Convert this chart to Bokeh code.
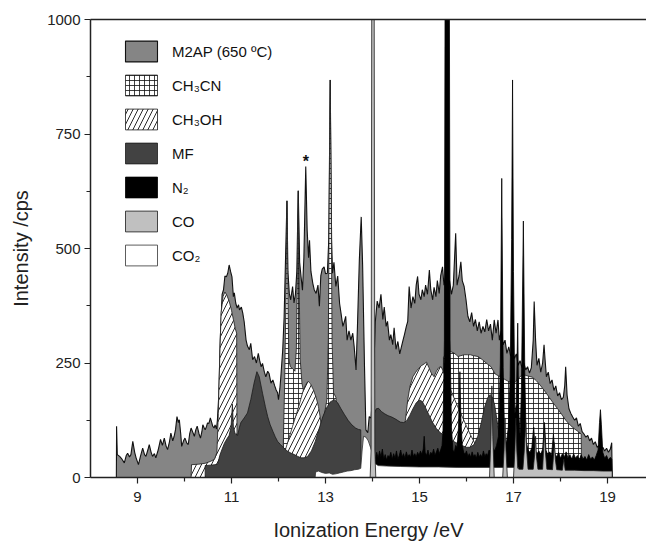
from bokeh.plotting import figure
from bokeh.models import Range1d, FixedTicker, Legend, LegendItem, LinearAxis
from bokeh.core.properties import value
from bokeh.embed import file_html
from bokeh.resources import INLINE

# ---------------- data (ionization energy /eV, intensity /cps) ----------------
m2ap = [(8.55, 0), (8.555, 112), (8.57, 50), (8.62, 46), (8.67, 40), (8.72, 32), (8.76, 48), (8.79, 53),
        (8.83, 45), (8.86, 50), (8.90, 79), (8.94, 55), (8.97, 43), (9.02, 28), (9.06, 45), (9.11, 64),
        (9.15, 50), (9.18, 46), (9.22, 60), (9.25, 72), (9.29, 55), (9.32, 46), (9.36, 52), (9.39, 43),
        (9.44, 60), (9.49, 83), (9.53, 70), (9.57, 86), (9.61, 68), (9.64, 61), (9.68, 78), (9.71, 97),
        (9.75, 80), (9.78, 90), (9.81, 105), (9.84, 133), (9.87, 120), (9.89, 126), (9.92, 95), (9.94, 68),
        (9.98, 80), (10.01, 86), (10.05, 75), (10.08, 72), (10.11, 95), (10.14, 108), (10.18, 98), (10.21, 90),
        (10.24, 104), (10.27, 112), (10.31, 95), (10.34, 86), (10.37, 100), (10.39, 115), (10.42, 108),
        (10.44, 104), (10.47, 112), (10.49, 119), (10.52, 118), (10.55, 130), (10.58, 120), (10.60, 112),
        (10.63, 108), (10.65, 115), (10.68, 106), (10.70, 125), (10.73, 180), (10.76, 300), (10.80, 400),
        (10.83, 410), (10.86, 440), (10.89, 438), (10.92, 446), (10.95, 464), (10.98, 450), (11.01, 438),
        (11.04, 395), (11.06, 403), (11.09, 381), (11.12, 370), (11.15, 377), (11.17, 366), (11.21, 372),
        (11.24, 359), (11.27, 340), (11.31, 300), (11.34, 287), (11.38, 279), (11.41, 293), (11.45, 257),
        (11.49, 264), (11.53, 250), (11.57, 271), (11.60, 255), (11.63, 242), (11.66, 249), (11.70, 230),
        (11.73, 220), (11.77, 232), (11.80, 227), (11.84, 206), (11.88, 213), (11.92, 200), (11.95, 191),
        (11.98, 185), (12.00, 170), (12.03, 195), (12.05, 220), (12.09, 279), (12.12, 351), (12.15, 480),
        (12.18, 604), (12.20, 450), (12.23, 402), (12.26, 388), (12.30, 417), (12.33, 381), (12.36, 400),
        (12.39, 450), (12.42, 626), (12.45, 470), (12.48, 438), (12.51, 409), (12.54, 480), (12.58, 679),
        (12.61, 540), (12.64, 480), (12.66, 518), (12.69, 450), (12.73, 424), (12.76, 410), (12.80, 402),
        (12.84, 420), (12.87, 374), (12.90, 440), (12.93, 455), (12.97, 460), (13.00, 445), (13.04, 446),
        (13.07, 520), (13.10, 868), (13.13, 520), (13.15, 446), (13.18, 470), (13.22, 417), (13.26, 440),
        (13.30, 380), (13.33, 359), (13.37, 330), (13.40, 340), (13.43, 352), (13.46, 300), (13.50, 320),
        (13.54, 300), (13.58, 315), (13.61, 286), (13.65, 235), (13.68, 330), (13.72, 475), (13.76, 569),
        (13.79, 464), (13.83, 242), (13.86, 104), (13.90, 98), (13.93, 133), (13.97, 130), (14.02, 211),
        (14.06, 340), (14.10, 385), (14.14, 370), (14.18, 400), (14.22, 345), (14.25, 372), (14.29, 330),
        (14.32, 341), (14.36, 300), (14.39, 312), (14.43, 290), (14.46, 327), (14.50, 280), (14.54, 297),
        (14.58, 270), (14.61, 283), (14.65, 300), (14.68, 312), (14.72, 330), (14.75, 341), (14.78, 417),
        (14.82, 370), (14.86, 395), (14.90, 380), (14.93, 420), (14.96, 439), (14.99, 400), (15.03, 388),
        (15.06, 410), (15.10, 395), (15.13, 420), (15.17, 400), (15.21, 453), (15.24, 410), (15.28, 388),
        (15.31, 415), (15.35, 395), (15.38, 430), (15.42, 402), (15.45, 440), (15.49, 460), (15.52, 420),
        (15.56, 440), (15.60, 410), (15.64, 430), (15.68, 400), (15.72, 420), (15.77, 533), (15.80, 420),
        (15.84, 440), (15.88, 471), (15.91, 430), (15.95, 417), (15.99, 388), (16.03, 352), (16.07, 340),
        (16.11, 360), (16.15, 330), (16.19, 345), (16.23, 320), (16.27, 340), (16.31, 315), (16.35, 330),
        (16.39, 318), (16.43, 345), (16.47, 320), (16.51, 335), (16.55, 300), (16.59, 344), (16.63, 315),
        (16.67, 344), (16.70, 300), (16.74, 320), (16.78, 290), (16.82, 300), (16.86, 271), (16.90, 285),
        (16.94, 265), (16.98, 275), (17.02, 260), (17.06, 270), (17.10, 245), (17.14, 255), (17.18, 240),
        (17.22, 250), (17.26, 235), (17.30, 242), (17.34, 228), (17.38, 240), (17.42, 300), (17.44, 384),
        (17.47, 300), (17.50, 245), (17.54, 260), (17.58, 230), (17.62, 250), (17.65, 290), (17.67, 260),
        (17.70, 220), (17.74, 230), (17.78, 205), (17.82, 213), (17.86, 190), (17.90, 200), (17.94, 178),
        (17.98, 185), (18.02, 170), (18.06, 175), (18.09, 200), (18.11, 242), (18.14, 180), (18.18, 150),
        (18.22, 140), (18.26, 132), (18.30, 125), (18.34, 130), (18.38, 112), (18.42, 118), (18.46, 100),
        (18.50, 95), (18.54, 88), (18.58, 92), (18.62, 80), (18.66, 86), (18.70, 72), (18.74, 78), (18.78, 66),
        (18.82, 70), (18.86, 62), (18.90, 66), (18.94, 58), (18.98, 64), (19.02, 55), (19.06, 62), (19.09, 76),
        (19.10, 0)]

ch3cn_a = [(12.08, 0), (12.10, 60), (12.13, 200), (12.16, 400), (12.18, 604), (12.20, 400), (12.22, 260),
           (12.25, 242), (12.30, 238), (12.35, 232), (12.38, 280), (12.40, 420), (12.42, 626), (12.44, 420),
           (12.46, 260), (12.50, 205), (12.55, 180), (12.62, 150), (12.70, 120), (12.80, 100), (12.90, 110),
           (12.98, 140), (13.03, 170), (13.06, 300), (13.08, 600), (13.10, 868), (13.12, 600), (13.14, 300),
           (13.17, 185), (13.22, 175), (13.30, 100), (13.40, 0)]
ch3cn_b = [(15.50, 0), (15.51, 262), (15.56, 270), (15.60, 272), (15.64, 275), (15.68, 274), (15.73, 272),
           (15.78, 268), (15.82, 264), (15.88, 266), (15.95, 268), (16.02, 268), (16.08, 268), (16.15, 266),
           (16.25, 264), (16.34, 257), (16.43, 249), (16.52, 242), (16.61, 226), (16.68, 222), (16.74, 219),
           (16.80, 215), (16.87, 211), (16.94, 207), (17.00, 204), (17.05, 210), (17.09, 215), (17.14, 220),
           (17.18, 223), (17.26, 223), (17.33, 221), (17.40, 219), (17.49, 211), (17.58, 200), (17.67, 188),
           (17.76, 175), (17.85, 162), (17.94, 150), (18.03, 137), (18.12, 124), (18.21, 114), (18.30, 106),
           (18.38, 100), (18.44, 95), (18.45, 0)]

ch3oh_a = [(10.14, 0), (10.15, 28), (10.30, 29), (10.44, 31), (10.55, 35), (10.64, 40), (10.69, 55),
           (10.72, 140), (10.75, 260), (10.78, 360), (10.82, 395), (10.86, 405), (10.90, 398), (10.95, 385),
           (11.00, 365), (11.04, 345), (11.08, 325), (11.11, 315), (11.12, 0)]
ch3oh_b = [(12.05, 0), (12.10, 45), (12.14, 58), (12.22, 85), (12.30, 112), (12.38, 138), (12.45, 162),
           (12.52, 188), (12.58, 203), (12.63, 210), (12.68, 205), (12.74, 192), (12.80, 175), (12.85, 155),
           (12.89, 130), (12.93, 90), (12.96, 40), (12.98, 0)]
ch3oh_c = [(14.62, 0), (14.66, 80), (14.70, 125), (14.75, 170), (14.80, 200), (14.86, 220), (14.92, 230),
           (14.98, 238), (15.04, 244), (15.10, 248), (15.15, 252), (15.20, 240), (15.25, 228), (15.31, 220),
           (15.36, 232), (15.41, 240), (15.46, 242), (15.52, 228), (15.60, 207), (15.70, 182), (15.80, 158),
           (15.90, 135), (16.00, 112), (16.08, 94), (16.17, 76), (16.22, 50), (16.26, 0)]

mf_a = [(10.44, 0), (10.44, 26), (10.55, 27), (10.65, 28), (10.71, 30), (10.75, 48), (10.80, 62), (10.85, 75),
        (10.90, 84), (10.95, 92), (10.99, 110), (11.02, 160), (11.04, 110), (11.08, 95), (11.13, 92),
        (11.17, 110), (11.20, 120), (11.27, 130), (11.34, 141), (11.41, 170), (11.48, 206), (11.54, 231),
        (11.59, 220), (11.66, 184), (11.72, 155), (11.77, 133), (11.82, 116), (11.88, 101), (11.93, 89),
        (11.98, 79), (12.04, 72), (12.09, 67), (12.15, 61), (12.20, 57), (12.27, 53), (12.34, 50), (12.41, 46),
        (12.48, 43), (12.55, 43), (12.62, 46), (12.70, 58), (12.78, 78), (12.86, 105), (12.94, 132),
        (13.02, 152), (13.10, 165), (13.19, 170), (13.26, 163), (13.33, 150), (13.40, 138), (13.48, 125),
        (13.56, 115), (13.64, 108), (13.70, 105), (13.75, 104), (13.76, 0)]
mf_b = [(14.03, 0), (14.04, 140), (14.08, 150), (14.13, 151), (14.19, 144), (14.26, 139), (14.33, 135),
        (14.41, 132), (14.50, 127), (14.59, 121), (14.66, 120), (14.72, 123), (14.79, 135), (14.86, 150),
        (14.93, 163), (15.00, 169), (15.06, 166), (15.13, 152), (15.20, 137), (15.28, 120), (15.36, 107),
        (15.44, 98), (15.52, 92), (15.60, 86), (15.70, 80), (15.80, 75), (15.90, 70), (16.00, 66), (16.08, 66),
        (16.16, 72), (16.24, 90), (16.31, 118), (16.38, 152), (16.45, 174), (16.50, 181), (16.55, 176),
        (16.60, 158), (16.65, 125), (16.70, 90), (16.76, 55), (16.82, 30), (16.85, 0)]

n2 = [(14.05, 0), (14.06, 40), (14.09, 55), (14.12, 42), (14.15, 58), (14.18, 45), (14.21, 62), (14.24, 40),
      (14.27, 50), (14.30, 38), (14.33, 48), (14.36, 44), (14.39, 55), (14.42, 40), (14.45, 52), (14.48, 42),
      (14.51, 58), (14.54, 40), (14.57, 48), (14.60, 60), (14.63, 44), (14.66, 52), (14.69, 42), (14.72, 56),
      (14.75, 45), (14.78, 50), (14.81, 44), (14.84, 60), (14.87, 46), (14.90, 52), (14.93, 45), (14.96, 55),
      (14.99, 48), (15.02, 58), (15.05, 50), (15.08, 62), (15.10, 90), (15.12, 55), (15.15, 48), (15.18, 60),
      (15.21, 46), (15.24, 55), (15.27, 50), (15.30, 62), (15.33, 48), (15.36, 56), (15.39, 64), (15.42, 52),
      (15.45, 60), (15.48, 70), (15.50, 100), (15.53, 300), (15.545, 1100), (15.635, 1100), (15.65, 300),
      (15.68, 110), (15.71, 60), (15.74, 55), (15.77, 70), (15.80, 65), (15.83, 110), (15.86, 231),
      (15.88, 130), (15.91, 70), (15.94, 55), (15.97, 50), (16.00, 58), (16.03, 46), (16.06, 52), (16.09, 44),
      (16.12, 56), (16.15, 46), (16.18, 50), (16.21, 42), (16.24, 55), (16.27, 45), (16.30, 50), (16.33, 44),
      (16.36, 58), (16.39, 46), (16.42, 52), (16.45, 48), (16.48, 60), (16.52, 55), (16.56, 65), (16.60, 58),
      (16.64, 70), (16.68, 90), (16.72, 250), (16.75, 653), (16.78, 240), (16.81, 90), (16.85, 75),
      (16.89, 110), (16.93, 220), (16.96, 520), (16.98, 868), (17.00, 450), (17.03, 140), (17.06, 160),
      (17.09, 337), (17.11, 150), (17.14, 90), (17.17, 200), (17.21, 560), (17.24, 230), (17.27, 80),
      (17.31, 60), (17.35, 55), (17.39, 65), (17.43, 110), (17.46, 60), (17.50, 52), (17.54, 58), (17.58, 50),
      (17.62, 62), (17.66, 120), (17.69, 60), (17.73, 50), (17.77, 56), (17.81, 48), (17.85, 95), (17.88, 52),
      (17.92, 45), (17.96, 55), (18.00, 42), (18.04, 52), (18.08, 44), (18.12, 56), (18.16, 42), (18.20, 50),
      (18.24, 40), (18.28, 52), (18.32, 42), (18.36, 48), (18.40, 38), (18.44, 50), (18.48, 40), (18.52, 46),
      (18.56, 38), (18.60, 50), (18.64, 40), (18.68, 45), (18.72, 38), (18.76, 48), (18.80, 60), (18.83, 120),
      (18.85, 148), (18.87, 115), (18.90, 55), (18.94, 42), (18.98, 48), (19.02, 38), (19.06, 44), (19.09, 40),
      (19.10, 0)]

co_a = [(13.95, 0), (13.97, 60), (13.985, 1100), (14.035, 1100), (14.05, 60), (14.07, 0)]
co_b = [(16.49, 0), (16.52, 90), (16.54, 200), (16.56, 90), (16.59, 0), (16.77, 0), (16.80, 60), (16.82, 130),
        (16.84, 60), (16.87, 0), (17.00, 0), (17.03, 60), (17.05, 130), (17.07, 60), (17.09, 20), (17.12, 18),
        (17.20, 18), (17.23, 60), (17.26, 120), (17.28, 60), (17.31, 18), (17.42, 18), (17.45, 50), (17.47, 90),
        (17.49, 45), (17.52, 18), (17.62, 18), (17.64, 60), (17.66, 104), (17.68, 55), (17.71, 18), (17.83, 17),
        (17.85, 45), (17.87, 76), (17.89, 40), (17.92, 17), (18.04, 16), (18.07, 40), (18.10, 16), (18.30, 16),
        (18.50, 15), (18.70, 15), (18.90, 14), (19.10, 14), (19.10, 0)]

co2 = [(12.78, 0), (12.79, 12), (12.85, 14), (12.92, 11), (13.00, 9), (13.08, 10), (13.15, 7), (13.22, 8),
       (13.30, 10), (13.38, 12), (13.46, 14), (13.54, 15), (13.62, 17), (13.70, 18), (13.75, 20), (13.78, 60),
       (13.81, 90), (13.86, 88), (13.91, 80), (13.96, 65), (14.02, 45), (14.06, 30), (14.12, 26), (14.30, 25),
       (14.60, 24), (15.00, 23), (15.40, 23), (15.80, 22), (16.20, 22), (16.60, 22), (17.00, 22), (17.10, 22),
       (17.11, 0)]

labels = ["M2AP (650 \u00baC)", "CH\u2083CN", "CH\u2083OH", "MF", "N\u2082", "CO", "CO\u2082"]
x_ticks = [9, 11, 13, 15, 17, 19]
x_minor = [10, 12, 14, 16, 18]
y_ticks = [0, 250, 500, 750, 1000]
y_minor = [125, 375, 625, 875]
star_x = 12.58
star_text = "*"


def xs(d):
    return [a for a, b in d]


def ys(d):
    return [b for a, b in d]


FONT = "Liberation Sans"

p = figure(width=646, height=543, output_backend="svg", toolbar_location=None,
           x_range=Range1d(8.0, 19.83), y_range=Range1d(0, 1000),
           min_border_left=90, min_border_right=0, min_border_top=19, min_border_bottom=65)
p.grid.visible = False
p.outline_line_color = None
p.background_fill_color = "white"
p.border_fill_color = "white"

bottom_axis = p.below[0]
left_axis = p.left[0]

# top frame line only (the right side of the frame lies outside the picture)
top_axis = LinearAxis(ticker=FixedTicker(ticks=[], minor_ticks=[]), axis_line_width=1.5,
                      axis_line_color="#222222", major_label_text_font_size="0px",
                      major_tick_out=0, minor_tick_out=0, major_tick_in=0, minor_tick_in=0)
p.add_layout(top_axis, "above")

edge = dict(line_color="#1a1a1a", line_width=0.8)

r_m2ap = p.patch(xs(m2ap), ys(m2ap), fill_color="#858585", line_color="#111111", line_width=1.1)
r_cn = [p.patch(xs(d), ys(d), fill_color="white", hatch_pattern="+", hatch_scale=5, hatch_weight=0.8,
                hatch_color="#111111", **edge) for d in (ch3cn_a, ch3cn_b)]
r_oh = [p.patch(xs(d), ys(d), fill_color="white", hatch_pattern="/", hatch_scale=10, hatch_weight=0.9,
                hatch_color="#111111", **edge) for d in (ch3oh_a, ch3oh_b, ch3oh_c)]
r_mf = [p.patch(xs(d), ys(d), fill_color="#424242", **edge) for d in (mf_a, mf_b)]
r_n2 = p.patch(xs(n2), ys(n2), fill_color="black", line_color="black", line_width=0.8)
r_co2 = p.patch(xs(co2), ys(co2), fill_color="white", line_color="#333333", line_width=0.8)
r_co = [p.patch(xs(d), ys(d), fill_color="#c0c0c0", **edge) for d in (co_a, co_b)]

star_y = dict(m2ap)[star_x]
p.text(x=[star_x], y=[star_y], text=[star_text], text_align="center", text_baseline="alphabetic",
       y_offset=-5, text_font=value(FONT), text_font_size="16px", text_font_style="bold",
       text_color="#111111")

items = [LegendItem(label=labels[0], renderers=[r_m2ap]),
         LegendItem(label=labels[1], renderers=[r_cn[0]]),
         LegendItem(label=labels[2], renderers=[r_oh[0]]),
         LegendItem(label=labels[3], renderers=[r_mf[0]]),
         LegendItem(label=labels[4], renderers=[r_n2]),
         LegendItem(label=labels[5], renderers=[r_co[0]]),
         LegendItem(label=labels[6], renderers=[r_co2])]
legend = Legend(items=items, location=(31, 209), padding=0, margin=0, spacing=8,
                glyph_width=40, glyph_height=26, label_standoff=11,
                border_line_color=None, background_fill_alpha=0,
                label_text_font=FONT, label_text_font_size="15px", label_text_color="#111111")
p.add_layout(legend)

for ax in (bottom_axis, left_axis):
    ax.axis_line_width = 1.5
    ax.axis_line_color = "#222222"
    ax.major_tick_line_color = "#222222"
    ax.minor_tick_line_color = "#222222"
    ax.major_tick_line_width = 1.2
    ax.minor_tick_line_width = 1.2
    ax.major_tick_in = 0
    ax.major_tick_out = 6
    ax.minor_tick_in = 0
    ax.minor_tick_out = 4
    ax.major_label_text_font = FONT
    ax.major_label_text_font_size = "15px"
    ax.major_label_text_color = "#222222"
    ax.axis_label_text_font = FONT
    ax.axis_label_text_font_size = "20px"
    ax.axis_label_text_font_style = "normal"
    ax.axis_label_text_color = "#222222"

bottom_axis.ticker = FixedTicker(ticks=x_ticks, minor_ticks=x_minor)
left_axis.ticker = FixedTicker(ticks=y_ticks, minor_ticks=y_minor)
bottom_axis.major_label_standoff = 8
left_axis.major_label_standoff = 4
bottom_axis.axis_label = "Ionization Energy /eV"
left_axis.axis_label = "Intensity /cps"
bottom_axis.axis_label_standoff = 14
left_axis.axis_label_standoff = 12

open("out.html", "w").write(file_html(p, INLINE))
